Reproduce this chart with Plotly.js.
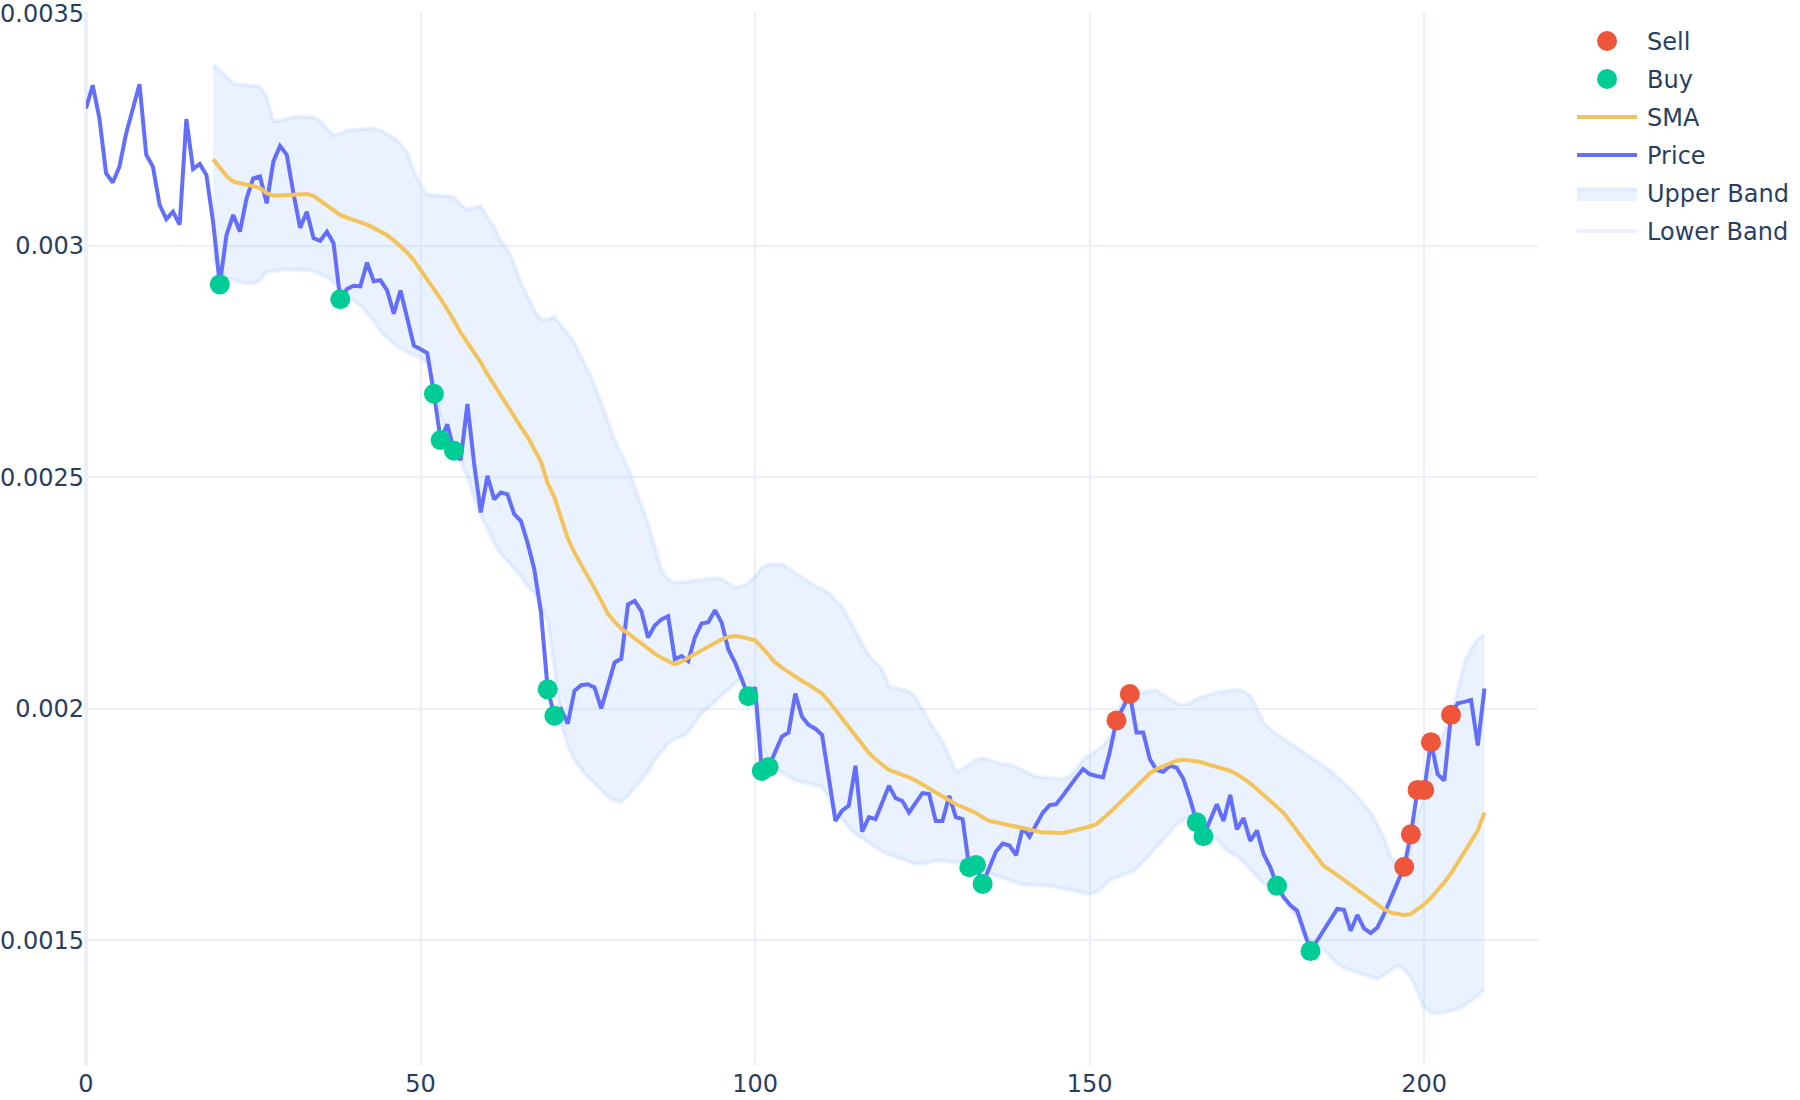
<!DOCTYPE html>
<html><head><meta charset="utf-8">
<script src="https://cdn.plot.ly/plotly-3.0.1.min.js"></script>
<style>
html,body{margin:0;padding:0;background:#fff;overflow:hidden;width:1800px;height:1100px;}
#wrap{width:900px;height:550px;transform:scale(2);transform-origin:0 0;}
#chart{width:900px;height:550px;}
</style></head><body>
<div id="wrap"><div id="chart"></div></div>
<script>
// Price, one value per period index 0..209
const price = [
0.003296,0.003346,0.003275,0.003156,0.003136,0.00317,0.003242,0.003296,0.003348,0.003196,
0.00317,0.003088,0.003057,0.003073,0.003045,0.003273,0.003165,0.003176,0.003152,0.00305,
0.002916,0.003023,0.003066,0.00303,0.003102,0.003145,0.003149,0.003091,0.003181,0.003215,
0.003196,0.003113,0.003038,0.003073,0.003016,0.00301,0.00303,0.003005,0.002884,0.002906,
0.002913,0.002912,0.002963,0.002923,0.002925,0.002903,0.002853,0.002903,0.002842,0.002784,
0.002776,0.002768,0.00268,0.00258,0.002614,0.002557,0.002537,0.002658,0.00253,0.002424,
0.002503,0.002452,0.002467,0.002463,0.00242,0.002405,0.002358,0.002301,0.002208,0.002042,
0.001985,0.001999,0.001968,0.002039,0.002051,0.002053,0.002046,0.002001,0.00205,0.0021,
0.002108,0.002225,0.002233,0.002211,0.002154,0.00218,0.002193,0.0022,0.002107,0.002114,
0.002103,0.002154,0.002184,0.002187,0.002213,0.002186,0.002128,0.0021,0.002064,0.002027,
0.002046,0.001866,0.001874,0.001906,0.00194,0.001949,0.002033,0.001983,0.001965,0.001957,
0.001944,0.001852,0.001758,0.00178,0.001791,0.001877,0.001735,0.001766,0.001762,0.001798,
0.001834,0.001807,0.001801,0.001776,0.001798,0.001818,0.001816,0.001758,0.001758,0.001812,
0.001766,0.001762,0.001658,0.001663,0.001622,0.001654,0.001692,0.001709,0.001705,0.001684,
0.001744,0.001724,0.00175,0.001776,0.001792,0.001794,0.001813,0.001834,0.001852,0.00187,
0.001859,0.001855,0.001852,0.001906,0.001975,0.002003,0.002032,0.001949,0.001949,0.001891,
0.001868,0.001864,0.001877,0.001873,0.001849,0.001805,0.001755,0.001725,0.001762,0.001794,
0.001758,0.001814,0.00174,0.001764,0.001715,0.001737,0.001686,0.001658,0.001618,0.001593,
0.001576,0.001564,0.001521,0.001477,0.0015,0.001521,0.001546,0.001568,0.001566,0.001521,
0.001555,0.001526,0.001516,0.001528,0.001557,0.001589,0.001625,0.001659,0.001729,0.001825,
0.001825,0.001928,0.001859,0.001845,0.001987,0.002012,0.002015,0.002019,0.001921,0.002044
];

// first index that has SMA / band values
const bandStart = 19;

// SMA, indices 19..209
const sma = [
0.003186,0.003167,0.00315,0.003138,0.003133,0.003131,0.003128,0.003124,0.003113,0.003108,
0.003108,0.003109,0.00311,0.003111,0.003111,0.003107,0.003097,0.003086,0.003076,0.003066,
0.00306,0.003056,0.00305,0.003045,0.003038,0.003031,0.003022,0.003011,0.003,0.002985,
0.002968,0.002949,0.002928,0.002906,0.002885,0.002864,0.002838,0.002812,0.002792,0.002773,
0.002748,0.002722,0.002698,0.002675,0.002652,0.002629,0.002608,0.002587,0.00256,0.002533,
0.002487,0.002457,0.002412,0.002368,0.002337,0.002313,0.002287,0.00226,0.002233,0.002205,
0.002188,0.002173,0.002163,0.002151,0.00214,0.002131,0.002119,0.00211,0.002102,0.002096,
0.002102,0.00211,0.00212,0.002128,0.002137,0.002145,0.00215,0.002155,0.002157,0.002155,
0.002152,0.002148,0.002133,0.002114,0.0021,0.002089,0.002078,0.002068,0.00206,0.002052,
0.002043,0.002033,0.002016,0.001997,0.001979,0.00196,0.00194,0.00192,0.001905,0.001891,
0.00188,0.001868,0.001863,0.001859,0.001852,0.001845,0.001836,0.001827,0.001818,0.001809,
0.0018,0.001794,0.001788,0.001783,0.001775,0.001766,0.001758,0.001755,0.001752,0.001748,
0.001745,0.001742,0.001738,0.001735,0.001733,0.001733,0.001732,0.001732,0.001735,0.001738,
0.001742,0.001746,0.001751,0.001762,0.001776,0.00179,0.001805,0.00182,0.001834,0.001848,
0.001861,0.00187,0.001877,0.001883,0.001888,0.00189,0.00189,0.001887,0.001883,0.001879,
0.001875,0.001871,0.001866,0.001859,0.00185,0.001839,0.001827,0.001814,0.001801,0.001787,
0.001775,0.001756,0.001736,0.001716,0.001697,0.001678,0.00166,0.001651,0.001642,0.001631,
0.00162,0.001609,0.001598,0.001588,0.001577,0.001567,0.00156,0.001556,0.001555,0.001557,
0.001567,0.001578,0.001592,0.001608,0.001625,0.001645,0.001667,0.00169,0.001712,0.001737,0.001776
];

// Upper band, indices 19..209
const upper = [
0.00339,0.003379,0.003363,0.00335,0.003348,0.003347,0.003345,0.003343,0.003322,0.003268,
0.00327,0.003275,0.003277,0.003278,0.003278,0.003277,0.003268,0.003253,0.003238,0.003242,
0.003248,0.00325,0.003252,0.003253,0.003253,0.003248,0.00324,0.003232,0.00322,0.0032,
0.00316,0.00313,0.00311,0.003107,0.003107,0.003107,0.003104,0.003088,0.003077,0.003082,
0.003085,0.00306,0.00304,0.00301,0.00299,0.00296,0.00292,0.00289,0.00286,0.00284,
0.00284,0.002846,0.00283,0.00281,0.00279,0.00276,0.00273,0.0027,0.00266,0.00262,
0.00258,0.00255,0.00252,0.00248,0.00244,0.0024,0.00235,0.0023,0.00228,0.002272,
0.002273,0.002275,0.002277,0.002276,0.002279,0.002282,0.00228,0.00227,0.002262,0.002265,
0.002272,0.002285,0.002305,0.002312,0.002313,0.002312,0.002303,0.002293,0.002283,0.002275,
0.002265,0.002258,0.002251,0.002235,0.00222,0.002195,0.002165,0.00214,0.002115,0.002098,
0.002085,0.00205,0.002045,0.002042,0.002037,0.002024,0.002,0.00197,0.00195,0.00193,
0.0019,0.001865,0.00187,0.00188,0.00189,0.001894,0.00189,0.001884,0.001881,0.00188,
0.001875,0.001868,0.00186,0.001854,0.001852,0.00185,0.001849,0.001848,0.001855,0.00187,
0.00189,0.0019,0.001909,0.00192,0.00194,0.00196,0.00203,0.002032,0.002035,0.002037,
0.002039,0.00204,0.00203,0.00202,0.002012,0.002008,0.002012,0.002022,0.002028,0.002031,
0.002035,0.002038,0.00204,0.002041,0.002038,0.002028,0.002,0.00197,0.001955,0.001945,
0.001935,0.001927,0.001918,0.001908,0.001897,0.001886,0.001876,0.001866,0.001852,0.00184,
0.001827,0.00181,0.001793,0.001776,0.00175,0.00172,0.00168,0.00166,0.00165,0.0017,
0.00177,0.00181,0.00187,0.00191,0.00195,0.00198,0.00204,0.0021,0.00213,0.00215,0.002161
];

// Lower band, indices 19..209
const lower = [
0.00297,0.00295,0.00293,0.002925,0.00292,0.002918,0.002918,0.002925,0.002942,0.002946,
0.002947,0.002948,0.002948,0.002948,0.002947,0.002944,0.002938,0.002932,0.00292,0.002908,
0.002898,0.002885,0.00287,0.002855,0.002838,0.002815,0.0028,0.002788,0.002778,0.00277,
0.002763,0.002758,0.002745,0.0027,0.00263,0.0026,0.002568,0.002535,0.002502,0.002455,
0.002418,0.00239,0.002358,0.002335,0.002318,0.002305,0.002285,0.002265,0.00225,0.002225,
0.00219,0.00209,0.00197,0.00192,0.00189,0.00187,0.001852,0.00184,0.001825,0.00181,
0.001802,0.0018,0.001812,0.00183,0.001845,0.001865,0.00189,0.00191,0.001925,0.001935,
0.00194,0.00195,0.00197,0.00199,0.002003,0.002015,0.00203,0.002042,0.002055,0.002068,
0.00206,0.00203,0.00192,0.00189,0.001875,0.001862,0.001855,0.001845,0.001842,0.00184,
0.001835,0.00183,0.00181,0.00178,0.00176,0.001745,0.00173,0.00172,0.00171,0.0017,
0.001692,0.001685,0.00168,0.001675,0.00167,0.001665,0.001665,0.00167,0.001672,0.001672,
0.00167,0.001668,0.001672,0.00167,0.001668,0.001655,0.001645,0.00164,0.001635,0.00163,
0.001623,0.00162,0.00162,0.001618,0.001618,0.001618,0.001615,0.001612,0.00161,0.001605,
0.001602,0.0016,0.001605,0.001615,0.00163,0.001635,0.00164,0.001647,0.001655,0.00167,
0.001685,0.0017,0.001715,0.001733,0.00175,0.00176,0.001768,0.00177,0.00175,0.00173,
0.00172,0.0017,0.00169,0.001683,0.00167,0.001655,0.00164,0.001622,0.001618,0.00162,
0.00159,0.00157,0.00155,0.00151,0.0015,0.00149,0.00148,0.001465,0.00145,0.00144,
0.001435,0.00143,0.001425,0.00142,0.001417,0.001425,0.001435,0.001446,0.001438,0.00142,
0.00139,0.001355,0.001345,0.001342,0.001345,0.001348,0.001352,0.00136,0.00137,0.00138,0.001396
];

// Signals
const buyX = [20, 38, 52, 53, 55, 69, 70, 99, 101, 102, 132, 133, 134, 166, 167, 178, 183];
const buyY = [0.002916, 0.002884, 0.00268, 0.00258, 0.002557, 0.002042, 0.001985, 0.002027, 0.001866, 0.001874, 0.001658, 0.001663, 0.001622, 0.001755, 0.001725, 0.001618, 0.001477];
const sellX = [154, 156, 197, 198, 199, 200, 201, 204];
const sellY = [0.001975, 0.002032, 0.001659, 0.001729, 0.001825, 0.001825, 0.001928, 0.001987];

const xPrice = price.map((_, i) => i);
const xBand = sma.map((_, i) => i + bandStart);

const bandColor = 'rgba(173,204,255,0.25)';

const traces = [
  {type: 'scatter', mode: 'lines', name: 'Lower Band', x: xBand, y: lower,
   line: {color: bandColor, width: 2}},
  {type: 'scatter', mode: 'lines', name: 'Upper Band', x: xBand, y: upper,
   fill: 'tonexty', fillcolor: bandColor, line: {color: bandColor, width: 2}},
  {type: 'scatter', mode: 'lines', name: 'Price', x: xPrice, y: price,
   line: {color: '#636efa', width: 2}},
  {type: 'scatter', mode: 'lines', name: 'SMA', x: xBand, y: sma,
   line: {color: '#F3C45C', width: 2}},
  {type: 'scatter', mode: 'markers', name: 'Buy', x: buyX, y: buyY,
   marker: {color: '#00cc96', size: 10}},
  {type: 'scatter', mode: 'markers', name: 'Sell', x: sellX, y: sellY,
   marker: {color: '#EF553B', size: 10}}
];

const layout = {
  width: 900, height: 550,
  margin: {l: 43, r: 131, t: 6, b: 16.5, pad: 0, autoexpand: false},
  paper_bgcolor: '#ffffff', plot_bgcolor: '#ffffff',
  font: {family: '"DejaVu Sans", Verdana, sans-serif', size: 12, color: '#2a3f5f'},
  showlegend: true,
  legend: {traceorder: 'reversed', font: {size: 12}, x: 1.02, xanchor: 'left', y: 1, yanchor: 'top'},
  xaxis: {range: [0, 217], gridcolor: '#EBF0F8', linecolor: '#EBF0F8',
          zeroline: true, zerolinecolor: '#EBF0F8', zerolinewidth: 2,
          ticks: '', showline: false, automargin: false, dtick: 50},
  yaxis: {range: [0.001229, 0.003504], gridcolor: '#EBF0F8', linecolor: '#EBF0F8',
          zeroline: true, zerolinecolor: '#EBF0F8', zerolinewidth: 2,
          ticks: '', showline: false, automargin: false, dtick: 0.0005}
};

Plotly.newPlot('chart', traces, layout, {displayModeBar: false, staticPlot: true});
</script>
</body></html>
